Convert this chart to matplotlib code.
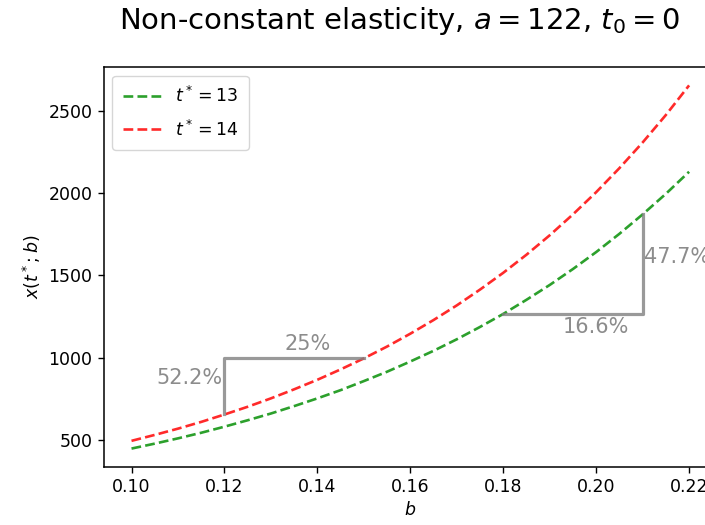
import numpy as np
import matplotlib
matplotlib.use("Agg")
import matplotlib.pyplot as plt

# values
b = [0.100, 0.105, 0.110, 0.115, 0.120, 0.125, 0.130, 0.135, 0.140, 0.145,
     0.150, 0.155, 0.160, 0.165, 0.170, 0.175, 0.180, 0.185, 0.190, 0.195,
     0.200, 0.205, 0.210, 0.215, 0.220]
x_t13 = [448, 478, 510, 544, 581, 620, 661, 706, 753, 803,
         858, 915, 977, 1042, 1112, 1187, 1266, 1352, 1442, 1539,
         1642, 1753, 1871, 1996, 2130]
x_t14 = [495, 531, 569, 610, 655, 702, 753, 808, 866, 929,
         996, 1068, 1146, 1229, 1318, 1414, 1516, 1626, 1744, 1871,
         2006, 2152, 2308, 2475, 2655]

# the two percentage brackets
br1_b = [0.12, 0.12, 0.15]
br1_x = [655, 1000, 1000]
br2_b = [0.18, 0.21, 0.21]
br2_x = [1266, 1266, 1871]

fig = plt.figure(figsize=(7.05, 5.25), dpi=100)
ax = fig.add_axes([0.147, 0.111, 0.870, 0.761])

ax.plot(b, x_t13, '--', color='#2ca02c', lw=1.9, label='$t^*=13$')
ax.plot(b, x_t14, '--', color='#ff2a2a', lw=1.9, label='$t^*=14$')

ax.plot(br1_b, br1_x, color='gray', alpha=0.8, lw=2.3)
ax.plot(br2_b, br2_x, color='gray', alpha=0.8, lw=2.3)

ax.text(0.1195, 875, '52.2%', ha='right', va='center', color='gray', alpha=0.9, fontsize=15)
ax.text(0.1380, 1085, '25%', ha='center', va='center', color='gray', alpha=0.9, fontsize=15)
ax.text(0.1999, 1186, '16.6%', ha='center', va='center', color='gray', alpha=0.9, fontsize=15)
ax.text(0.2103, 1610, '47.7%', ha='left', va='center', color='gray', alpha=0.9, fontsize=15)

ax.set_xticks([0.10, 0.12, 0.14, 0.16, 0.18, 0.20, 0.22])
ax.set_yticks([500, 1000, 1500, 2000, 2500])
ax.tick_params(labelsize=12.5, length=4.5, width=1.0)
for s in ax.spines.values():
    s.set_linewidth(1.1)

ax.set_xlabel('$b$', fontsize=12.5)
ax.set_ylabel('$x(t^*;b)$', fontsize=12.5)
ax.legend(loc='upper left', fontsize=12.5, handlelength=2.2,
          borderpad=0.6, labelspacing=0.75)
fig.suptitle('Non-constant elasticity, $a=122$, $t_0=0$', fontsize=21, x=0.567, y=0.99)

fig.savefig('out.png', dpi=100)
